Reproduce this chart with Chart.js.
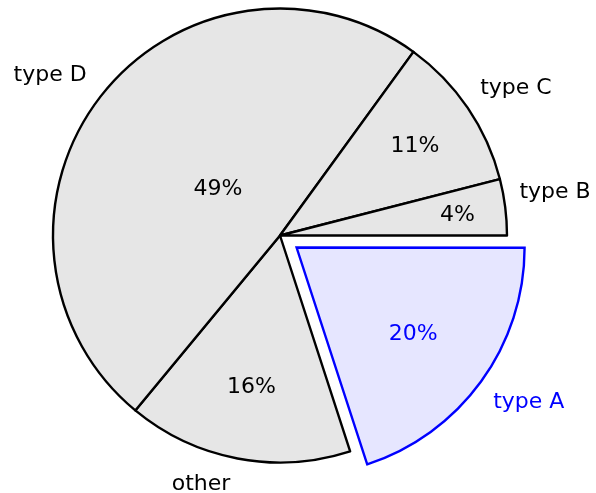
<!DOCTYPE html>
<html>
<head>
<meta charset="utf-8">
<script src="https://cdn.jsdelivr.net/npm/chart.js@4/dist/chart.umd.min.js"></script>
<style>
  html, body { margin: 0; padding: 0; background: #ffffff; }
  #wrap { width: 596px; height: 493px; }
</style>
</head>
<body>
<div id="wrap"><canvas id="pie" width="596" height="493"></canvas></div>
<script>
// Slices, listed clockwise from the three o'clock position
const categories = ['type A', 'other', 'type D', 'type C', 'type B'];
const shares = [20, 16, 49, 11, 4];
const highlighted = 'type A';

const INK = '#000000';
const FILL = '#e6e6e6';
const HI_INK = '#0000ff';
const HI_FILL = '#e6e6ff';
const FONT = '22px "DejaVu Sans"';
const RADIUS = 227;
const EXPLODE = 82;

const isHi = categories.map(c => c === highlighted);

// Percent and name labels placed around each slice
const pieLabels = {
  id: 'pieLabels',
  afterDatasetsDraw(chart) {
    const ctx = chart.ctx;
    const meta = chart.getDatasetMeta(0);
    ctx.save();
    ctx.font = FONT;
    ctx.textAlign = 'left';
    ctx.textBaseline = 'alphabetic';
    meta.data.forEach((arc, i) => {
      const p = arc.getProps(['x', 'y', 'startAngle', 'endAngle', 'outerRadius'], true);
      const sweep = p.endAngle - p.startAngle;
      const mid = (p.startAngle + p.endAngle) / 2;
      const c = Math.cos(mid), s = Math.sin(mid);
      // the same shift the arc element applies for its offset
      const off = (arc.options.offset || 0) / 4;
      const shift = off * (2 - Math.sin(Math.min(Math.PI, sweep)));
      const cx = p.x + c * shift, cy = p.y + s * shift;
      const R = p.outerRadius;
      ctx.fillStyle = isHi[i] ? HI_INK : INK;

      // percentage: thin slices get their label pushed outward
      const deg = sweep * 180 / Math.PI;
      const k = Math.max(Math.min((deg - 10) / 110 * -0.3, 0), -0.5) + 0.8;
      const pct = shares[i] + '%';
      const m1 = ctx.measureText(pct);
      const px = cx + c * k * R, py = cy + s * k * R;
      const a1 = m1.actualBoundingBoxAscent, d1 = m1.actualBoundingBoxDescent;
      ctx.fillText(pct, px - m1.width / 2, py + (a1 - d1) / 2);

      // name: the box corner nearest the pie sits just outside the rim
      const name = categories[i];
      const m2 = ctx.measureText(name);
      const asc = m2.actualBoundingBoxAscent, desc = m2.actualBoundingBoxDescent;
      const ax = cx + c * 1.05 * R, ay = cy + s * 1.05 * R;
      const padX = c >= 0 ? 3 : 5, padY = 4;
      const left = c >= 0 ? ax + padX : ax - padX - m2.width;
      const base = s >= 0 ? ay + padY + asc : ay - padY - desc;
      ctx.fillText(name, left, base);
    });
    ctx.restore();
  }
};

new Chart(document.getElementById('pie'), {
  type: 'pie',
  data: {
    labels: categories,
    datasets: [{
      data: shares,
      backgroundColor: isHi.map(h => h ? HI_FILL : FILL),
      borderColor: isHi.map(h => h ? HI_INK : INK),
      borderWidth: 2.4,
      borderJoinStyle: isHi.map(h => h ? 'miter' : 'round'),
      offset: isHi.map(h => h ? EXPLODE : 0),
      hoverOffset: 0
    }]
  },
  options: {
    responsive: false,
    animation: false,
    devicePixelRatio: 1,
    events: [],
    rotation: 90,
    radius: RADIUS,
    layout: { padding: { left: 0, right: 36, top: 0, bottom: 22 } },
    plugins: {
      legend: { display: false },
      tooltip: { enabled: false }
    }
  },
  plugins: [pieLabels]
});
</script>
</body>
</html>
